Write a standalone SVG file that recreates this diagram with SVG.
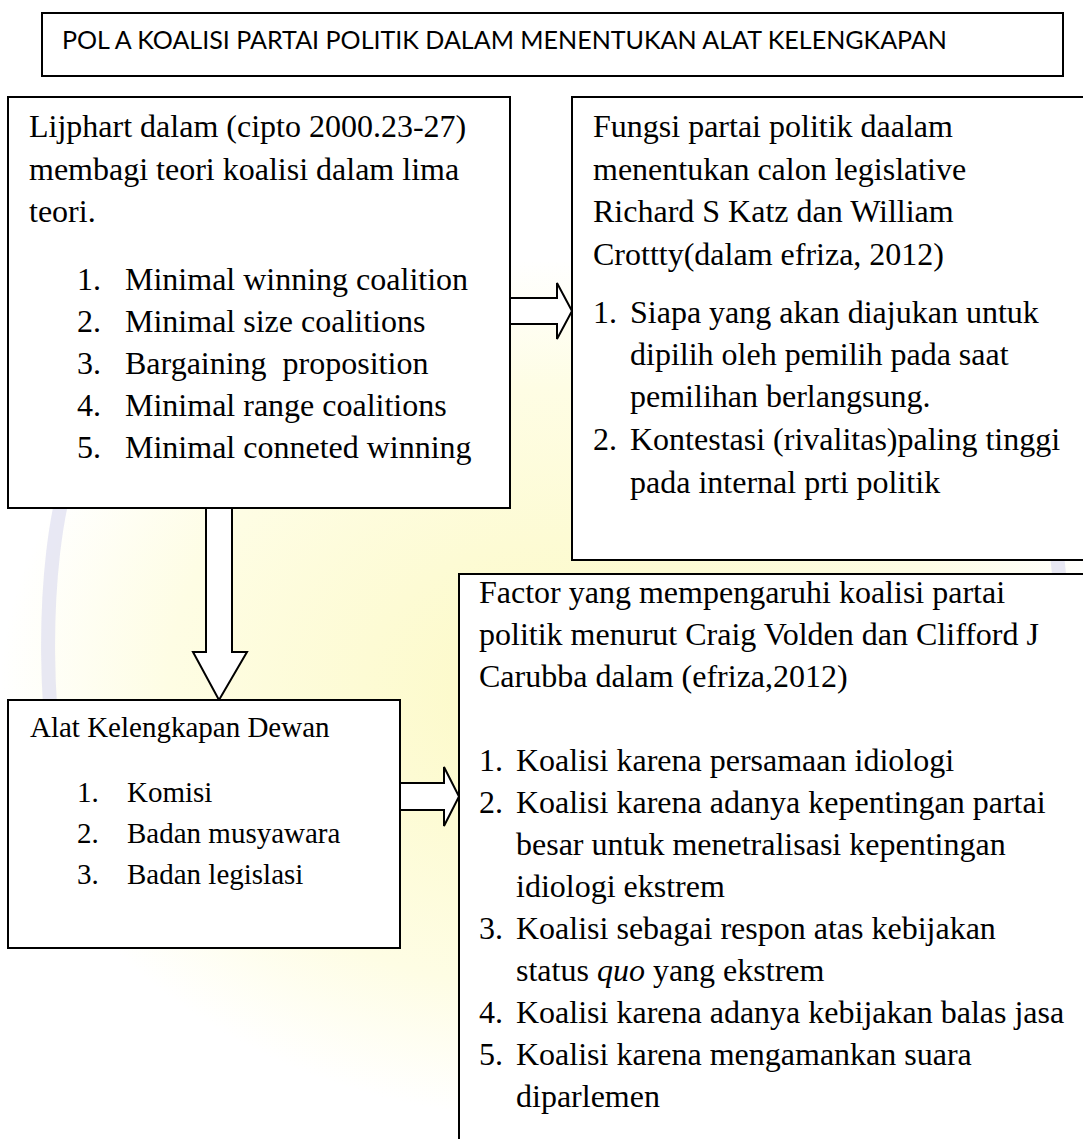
<svg xmlns="http://www.w3.org/2000/svg" width="1083" height="1139" viewBox="0 0 1083 1139">
<defs>
<radialGradient id="wm" cx="0.5" cy="0.5" r="0.5">
<stop offset="0" stop-color="#fcf9c4"/>
<stop offset="0.7" stop-color="#fefde4"/>
<stop offset="1" stop-color="#ffffff"/>
</radialGradient>
<style>
.box{fill:#ffffff;stroke:#000000;stroke-width:2}
.arrow{fill:#ffffff;stroke:#000000;stroke-width:2;stroke-linejoin:miter}
.t{font-family:"Liberation Serif","Times New Roman",serif;font-size:32px;fill:#000000}
.s{font-family:"Liberation Serif","Times New Roman",serif;font-size:29px;fill:#000000}
.title{font-family:Lato,"Open Sans","Liberation Sans",sans-serif;font-size:25px;fill:#000000}
.wmline{fill:none;stroke:#d8d8ee;stroke-width:14;opacity:0.6}
</style>
</defs>
<rect width="1083" height="1139" fill="#ffffff"/>
<g id="watermark">
<ellipse cx="560" cy="690" rx="560" ry="430" fill="url(#wm)"/>
<path class="wmline" d="M70,470 C40,560 40,740 75,860"/>
<path class="wmline" d="M1040,470 C1070,560 1070,740 1035,860"/>
</g>
<g id="title">
<rect class="box" x="42" y="13" width="1021" height="63"/>
<text class="title" x="62" y="49" textLength="885" lengthAdjust="spacingAndGlyphs">POL A KOALISI PARTAI POLITIK DALAM MENENTUKAN ALAT KELENGKAPAN</text>
</g>
<g id="connectors">
<polygon class="arrow" points="510,298 557,298 557,283 572,311 557,339 557,324 510,324"/>
<polygon class="arrow" points="206,508 232,508 232,652 247,652 219,700 193,652 206,652"/>
<polygon class="arrow" points="400,783 444,783 444,767 459,796.5 444,826 444,810 400,810"/>
</g>
<g id="node-lijphart">
<rect class="box" x="8" y="97" width="502" height="411"/>
<text class="t" x="29" y="137">Lijphart dalam (cipto 2000.23-27)</text>
<text class="t" x="29" y="180">membagi teori koalisi dalam lima</text>
<text class="t" x="29" y="222">teori.</text>
<text class="t" x="77" y="290">1.</text><text class="t" x="125" y="290">Minimal winning coalition</text>
<text class="t" x="77" y="332">2.</text><text class="t" x="125" y="332">Minimal size coalitions</text>
<text class="t" x="77" y="374">3.</text><text class="t" x="125" y="374" xml:space="preserve">Bargaining  proposition</text>
<text class="t" x="77" y="416">4.</text><text class="t" x="125" y="416">Minimal range coalitions</text>
<text class="t" x="77" y="458">5.</text><text class="t" x="125" y="458">Minimal conneted winning</text>
</g>
<g id="node-fungsi">
<rect class="box" x="572" y="97" width="530" height="463"/>
<text class="t" x="593" y="137">Fungsi partai politik daalam</text>
<text class="t" x="593" y="180">menentukan calon legislative</text>
<text class="t" x="593" y="222">Richard S Katz dan William</text>
<text class="t" x="593" y="265">Crottty(dalam efriza, 2012)</text>
<text class="t" x="593" y="323">1.</text><text class="t" x="630" y="323">Siapa yang akan diajukan untuk</text>
<text class="t" x="630" y="365">dipilih oleh pemilih pada saat</text>
<text class="t" x="630" y="407">pemilihan berlangsung.</text>
<text class="t" x="593" y="450">2.</text><text class="t" x="630" y="450">Kontestasi (rivalitas)paling tinggi</text>
<text class="t" x="630" y="493">pada internal prti politik</text>
</g>
<g id="node-alat">
<rect class="box" x="8" y="700" width="392" height="248"/>
<text class="s" x="30" y="737">Alat Kelengkapan Dewan</text>
<text class="s" x="77" y="802">1.</text><text class="s" x="127" y="802">Komisi</text>
<text class="s" x="77" y="843">2.</text><text class="s" x="127" y="843">Badan musyawara</text>
<text class="s" x="77" y="884">3.</text><text class="s" x="127" y="884">Badan legislasi</text>
</g>
<g id="node-factor">
<rect class="box" x="459" y="574" width="640" height="580"/>
<text class="t" x="479" y="603">Factor yang mempengaruhi koalisi partai</text>
<text class="t" x="479" y="645">politik menurut Craig Volden dan Clifford J</text>
<text class="t" x="479" y="687">Carubba dalam (efriza,2012)</text>
<text class="t" x="479" y="771">1.</text><text class="t" x="516" y="771">Koalisi karena persamaan idiologi</text>
<text class="t" x="479" y="813">2.</text><text class="t" x="516" y="813">Koalisi karena adanya kepentingan partai</text>
<text class="t" x="516" y="855">besar untuk menetralisasi kepentingan</text>
<text class="t" x="516" y="897">idiologi ekstrem</text>
<text class="t" x="479" y="939">3.</text><text class="t" x="516" y="939">Koalisi sebagai respon atas kebijakan</text>
<text class="t" x="516" y="981">status <tspan font-style="italic">quo</tspan> yang ekstrem</text>
<text class="t" x="479" y="1023">4.</text><text class="t" x="516" y="1023">Koalisi karena adanya kebijakan balas jasa</text>
<text class="t" x="479" y="1065">5.</text><text class="t" x="516" y="1065">Koalisi karena mengamankan suara</text>
<text class="t" x="516" y="1107">diparlemen</text>
</g>
</svg>
